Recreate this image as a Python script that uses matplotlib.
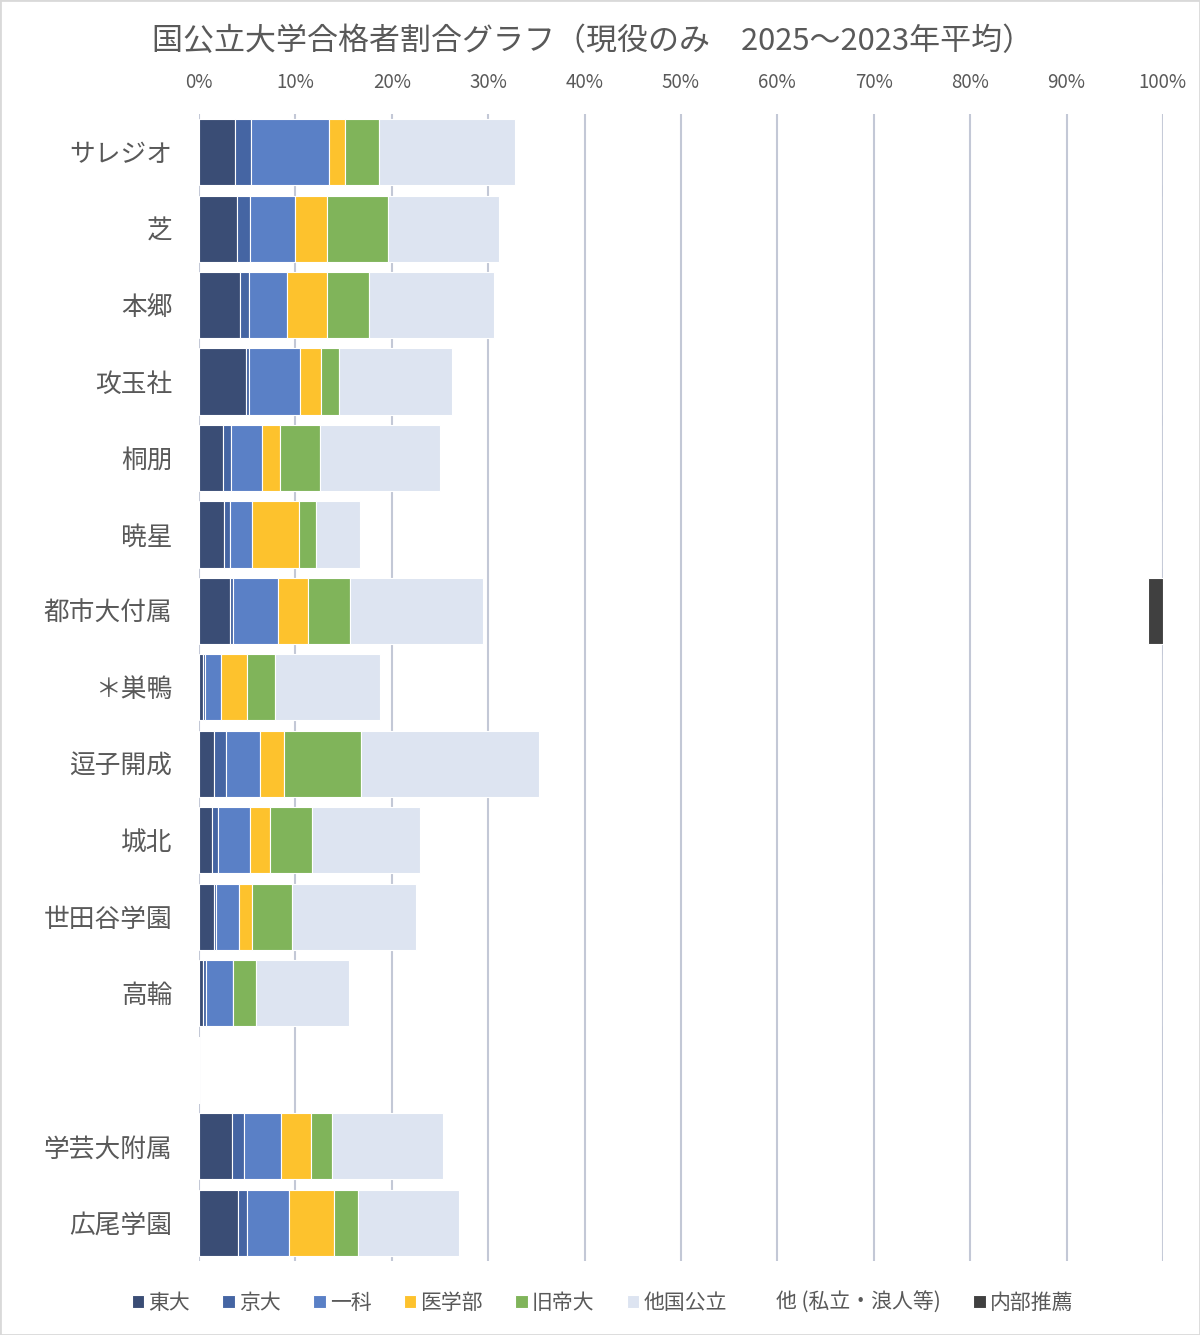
import numpy as np
import matplotlib.pyplot as plt
from matplotlib.patches import Rectangle

plt.rcParams['font.family'] = ['Noto Sans CJK JP', 'DejaVu Sans']

schools = ['サレジオ', '芝', '本郷', '攻玉社', '桐朋', '暁星', '都市大付属', '＊巣鴨',
           '逗子開成', '城北', '世田谷学園', '高輪', '', '学芸大附属', '広尾学園']

todai = [3.74, 3.99, 4.26, 4.89, 2.46, 2.56, 3.26, 0.42, 1.59, 1.32, 1.53, 0.42, 0, 3.47, 4.09]
kyodai = [1.67, 1.35, 0.97, 0.28, 0.87, 0.69, 0.28, 0.24, 1.21, 0.69, 0.28, 0.28, 0, 1.25, 0.90]
ikka = [8.11, 4.64, 3.89, 5.27, 3.19, 2.29, 4.68, 1.63, 3.54, 3.33, 2.32, 2.88, 0, 3.74, 4.40]
igaku = [1.59, 3.26, 4.12, 2.25, 1.84, 4.85, 3.05, 2.74, 2.46, 1.98, 1.39, 0.0, 0, 3.15, 4.58]
kyutei = [3.61, 6.41, 4.44, 1.87, 4.23, 1.77, 4.37, 2.88, 8.01, 4.44, 4.16, 2.36, 0, 2.15, 2.56]
other_public = [14.07, 11.51, 12.96, 11.72, 12.41, 4.51, 13.79, 10.92, 18.47, 11.13, 12.82, 9.67, 0, 11.54, 10.47]
naibu = [0, 0, 0, 0, 0, 0, 1.5, 0, 0, 0, 0, 0, 0, 0, 0]

series_names = ['東大', '京大', '一科', '医学部', '旧帝大', '他国公立', '他 (私立・浪人等)', '内部推薦']
colors = ['#3a4d75', '#4565a3', '#5a80c6', '#fdc22d', '#80b45a', '#dde4f1', 'none', '#404040']

public_sum = np.sum([todai, kyodai, ikka, igaku, kyutei, other_public], axis=0)
private = np.where(np.array(schools) == '', 0, 100 - public_sum - np.array(naibu))

data = [todai, kyodai, ikka, igaku, kyutei, other_public, private, naibu]

fig = plt.figure(figsize=(12, 13.35), dpi=100)
ax = fig.add_axes([0.1658, 0.0555, 0.8033, 0.8592])

y = np.arange(len(schools))
left = np.zeros(len(schools))
for name, vals, c in zip(series_names, data, colors):
    vals = np.array(vals, dtype=float)
    ec = 'white' if c != 'none' else 'none'
    ax.barh(y, vals, left=left, height=0.865, color=c, edgecolor=ec,
            linewidth=0.8, label=name, zorder=2)
    left += vals

ax.set_xlim(0, 100)
ax.set_ylim(len(schools) - 0.5, -0.5)
ax.set_yticks(y)
ax.set_yticklabels(schools, fontsize=18.5, color='#595959')
ax.set_xticks(np.arange(0, 101, 10))
ax.set_xticklabels([f'{v}%' for v in range(0, 101, 10)], fontsize=13.5, color='#595959')
ax.xaxis.tick_top()
ax.tick_params(axis='x', length=0, pad=15)
ax.tick_params(axis='y', length=0, pad=19)
ax.grid(axis='x', color='#c3c8d6', linewidth=1.5, zorder=0)
ax.set_axisbelow(True)
for s in ax.spines.values():
    s.set_visible(False)

fig.text(0.494, 0.969, '国公立大学合格者割合グラフ（現役のみ　2025～2023年平均）',
         fontsize=22.3, color='#595959', ha='center', va='center')

fig.legend(loc='center', bbox_to_anchor=(0.502, 0.024), ncol=8, frameon=False,
           fontsize=15, handlelength=0.6, handleheight=0.6, handletextpad=0.2,
           columnspacing=1.55, labelcolor='#595959')

fig.patches.append(Rectangle((0, 0), 1, 1, transform=fig.transFigure, fill=False,
                             edgecolor='#d9d9d9', linewidth=2))

fig.savefig('out.png', dpi=100)
